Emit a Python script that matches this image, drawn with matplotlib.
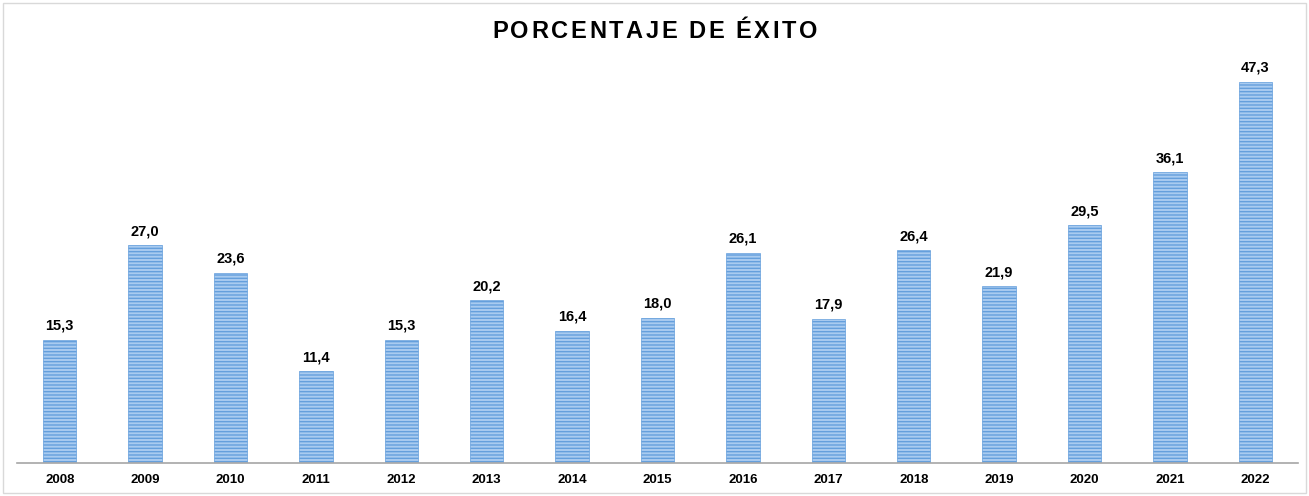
import numpy as np
import matplotlib.pyplot as plt
from matplotlib.patches import Rectangle

plt.rcParams['font.family'] = ['Liberation Sans', 'DejaVu Sans']
plt.rcParams['hatch.linewidth'] = 1.0

years = ["2008", "2009", "2010", "2011", "2012", "2013", "2014", "2015",
         "2016", "2017", "2018", "2019", "2020", "2021", "2022"]
exito = [15.3, 27.0, 23.6, 11.4, 15.3, 20.2, 16.4, 18.0,
         26.1, 17.9, 26.4, 21.9, 29.5, 36.1, 47.3]
title = "PORCENTAJE DE ÉXITO"

W, H = 1309, 496
fig = plt.figure(figsize=(W / 100, H / 100), dpi=100)
ax = fig.add_axes([17 / W, 33 / H, 1281 / W, 403 / H])

x = np.arange(len(years))
ax.bar(x, exito, width=0.39, color="#a9cbf0", edgecolor="#659fdc",
       linewidth=0.5, hatch="-----")

for xi, v in zip(x, exito):
    ax.annotate(f"{v:.1f}".replace(".", ","), (xi, v), xytext=(0, 5),
                textcoords="offset points", ha="center", va="bottom",
                fontsize=10.5, fontweight="bold")

ax.set_xlim(-0.5, len(years) - 0.5)
ax.set_ylim(0, 50)
ax.set_xticks(x)
ax.set_xticklabels(years, fontsize=9.5, fontweight="bold")
ax.tick_params(axis="x", length=0, pad=8)
ax.set_yticks([])
for s in ["top", "right", "left"]:
    ax.spines[s].set_visible(False)
ax.spines["bottom"].set_color("#a6a6a6")
ax.spines["bottom"].set_linewidth(1.2)

# title with letter spacing, placed one character at a time
renderer = fig.canvas.get_renderer()
spacing = 2.6
widths = []
for ch in title:
    t = fig.text(0, 0, ch if ch != " " else "a", fontsize=17, fontweight="bold")
    widths.append(t.get_window_extent(renderer).width if ch != " " else 6.5)
    t.remove()
total = sum(widths) + spacing * (len(title) - 1)
xpos = W / 2 - total / 2
for ch, w in zip(title, widths):
    if ch != " ":
        fig.text(xpos / W, 1 - 32 / H, ch, ha="left", va="center",
                 fontsize=17, fontweight="bold")
    xpos += w + spacing

fig.patches.append(Rectangle((3 / W, 3 / H), 1 - 6 / W, 1 - 6 / H,
                             transform=fig.transFigure, fill=False,
                             edgecolor="#d9d9d9", linewidth=1))

fig.savefig("out.png", dpi=100)
